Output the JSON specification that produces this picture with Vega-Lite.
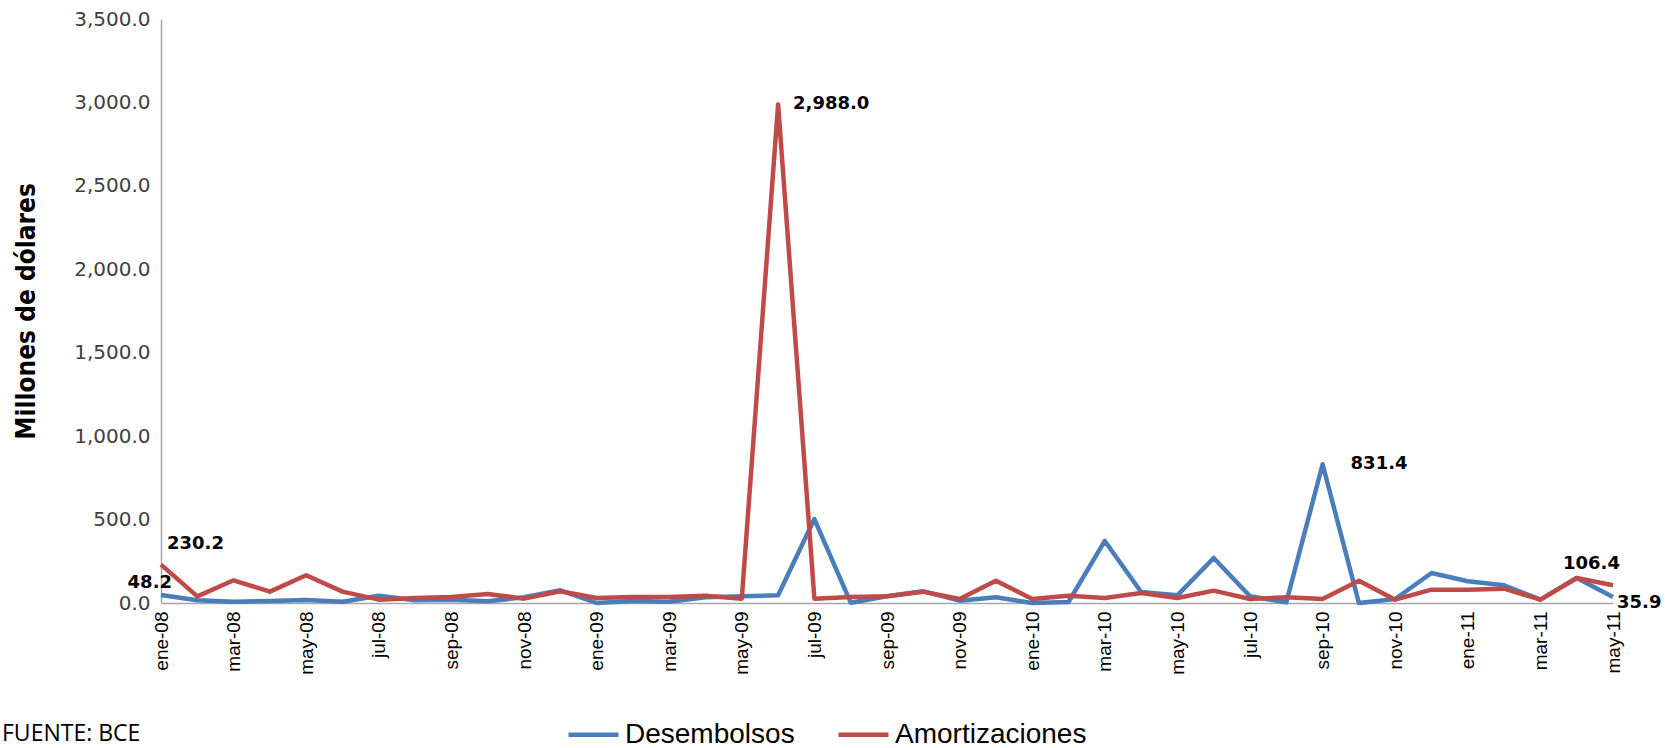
{
  "$schema": "https://vega.github.io/schema/vega-lite/v6.json",
  "autosize": "none",
  "width": 1452,
  "height": 584,
  "padding": {"left": 161, "top": 19, "right": 52, "bottom": 145},
  "background": "white",
  "config": {"view": {"stroke": null}},
  "title": {
    "text": "FUENTE: BCE",
    "orient": "bottom",
    "anchor": "start",
    "frame": "group",
    "dx": -159,
    "offset": -26,
    "font": "Open Sans",
    "fontSize": 23,
    "fontWeight": "normal",
    "color": "#000000"
  },
  "data": {
    "values": [
      {"mes": "ene-08", "Desembolsos": 48.2, "Amortizaciones": 230.2},
      {"mes": "feb-08", "Desembolsos": 16, "Amortizaciones": 40},
      {"mes": "mar-08", "Desembolsos": 8, "Amortizaciones": 136},
      {"mes": "abr-08", "Desembolsos": 12, "Amortizaciones": 68},
      {"mes": "may-08", "Desembolsos": 18, "Amortizaciones": 166},
      {"mes": "jun-08", "Desembolsos": 8, "Amortizaciones": 68},
      {"mes": "jul-08", "Desembolsos": 44, "Amortizaciones": 20},
      {"mes": "ago-08", "Desembolsos": 16, "Amortizaciones": 30},
      {"mes": "sep-08", "Desembolsos": 20, "Amortizaciones": 36},
      {"mes": "oct-08", "Desembolsos": 10, "Amortizaciones": 54},
      {"mes": "nov-08", "Desembolsos": 34, "Amortizaciones": 26},
      {"mes": "dic-08", "Desembolsos": 76, "Amortizaciones": 70},
      {"mes": "ene-09", "Desembolsos": 0, "Amortizaciones": 30},
      {"mes": "feb-09", "Desembolsos": 12, "Amortizaciones": 36},
      {"mes": "mar-09", "Desembolsos": 8, "Amortizaciones": 36},
      {"mes": "abr-09", "Desembolsos": 35, "Amortizaciones": 44},
      {"mes": "may-09", "Desembolsos": 40, "Amortizaciones": 26},
      {"mes": "jun-09", "Desembolsos": 46, "Amortizaciones": 2988},
      {"mes": "jul-09", "Desembolsos": 503, "Amortizaciones": 26},
      {"mes": "ago-09", "Desembolsos": 2, "Amortizaciones": 36},
      {"mes": "sep-09", "Desembolsos": 40, "Amortizaciones": 40},
      {"mes": "oct-09", "Desembolsos": 70, "Amortizaciones": 68},
      {"mes": "nov-09", "Desembolsos": 14, "Amortizaciones": 24},
      {"mes": "dic-09", "Desembolsos": 34, "Amortizaciones": 134},
      {"mes": "ene-10", "Desembolsos": 0, "Amortizaciones": 24},
      {"mes": "feb-10", "Desembolsos": 6, "Amortizaciones": 44},
      {"mes": "mar-10", "Desembolsos": 372, "Amortizaciones": 30},
      {"mes": "abr-10", "Desembolsos": 66, "Amortizaciones": 60},
      {"mes": "may-10", "Desembolsos": 46, "Amortizaciones": 30},
      {"mes": "jun-10", "Desembolsos": 270, "Amortizaciones": 74},
      {"mes": "jul-10", "Desembolsos": 40, "Amortizaciones": 24},
      {"mes": "ago-10", "Desembolsos": 4, "Amortizaciones": 34},
      {"mes": "sep-10", "Desembolsos": 831.4, "Amortizaciones": 24},
      {"mes": "oct-10", "Desembolsos": 0, "Amortizaciones": 134},
      {"mes": "nov-10", "Desembolsos": 24, "Amortizaciones": 20},
      {"mes": "dic-10", "Desembolsos": 180, "Amortizaciones": 80},
      {"mes": "ene-11", "Desembolsos": 130, "Amortizaciones": 80},
      {"mes": "feb-11", "Desembolsos": 106, "Amortizaciones": 86},
      {"mes": "mar-11", "Desembolsos": 20, "Amortizaciones": 20},
      {"mes": "abr-11", "Desembolsos": 150, "Amortizaciones": 150},
      {"mes": "may-11", "Desembolsos": 35.9, "Amortizaciones": 106.4}
    ]
  },
  "transform": [
    {"fold": ["Desembolsos", "Amortizaciones"], "as": ["serie", "valor"]}
  ],
  "encoding": {
    "x": {
      "field": "mes",
      "type": "ordinal",
      "sort": null,
      "scale": {"type": "point", "padding": 0},
      "axis": {
        "title": null,
        "values": ["ene-08","mar-08","may-08","jul-08","sep-08","nov-08","ene-09","mar-09","may-09","jul-09","sep-09","nov-09","ene-10","mar-10","may-10","jul-10","sep-10","nov-10","ene-11","mar-11","may-11"],
        "labelAngle": 270,
        "labelAlign": "right",
        "labelBaseline": "middle",
        "labelFont": "Liberation Sans",
        "labelFontSize": 19,
        "labelColor": "#000000",
        "labelPadding": 8,
        "ticks": false,
        "domainColor": "#A6A6A6",
        "domainWidth": 1.5,
        "grid": false
      }
    },
    "y": {
      "field": "valor",
      "type": "quantitative",
      "scale": {"domain": [0, 3500], "nice": false},
      "axis": {
        "title": "Millones de dólares",
        "titleFont": "DejaVu Sans Condensed, Liberation Sans, sans-serif",
        "titleFontSize": 26,
        "titleFontWeight": "bold",
        "titleColor": "#000000",
        "titlePadding": 34,
        "values": [0, 500, 1000, 1500, 2000, 2500, 3000, 3500],
        "format": ",.1f",
        "labelFont": "DejaVu Sans",
        "labelFontSize": 20,
        "labelColor": "#404040",
        "labelPadding": 11,
        "ticks": false,
        "domainColor": "#A6A6A6",
        "domainWidth": 1.5,
        "grid": false
      }
    }
  },
  "layer": [
    {
      "mark": {"type": "line", "strokeWidth": 4.5, "strokeJoin": "round"},
      "encoding": {
        "color": {
          "field": "serie",
          "type": "nominal",
          "scale": {"domain": ["Desembolsos", "Amortizaciones"], "range": ["#4A7EBB", "#BE4B48"]},
          "legend": {
            "title": null,
            "orient": "none",
            "legendX": 405,
            "legendY": 688,
            "direction": "horizontal",
            "symbolType": "stroke",
            "symbolSize": 2500,
            "symbolStrokeWidth": 4.5,
            "labelFont": "Liberation Sans",
            "labelFontSize": 28,
            "labelLimit": 500,
            "labelColor": "#000000",
            "labelOffset": 4,
            "columnPadding": 34
          }
        }
      }
    },
    {
      "transform": [{"filter": "datum.mes == 'ene-08' && datum.serie == 'Amortizaciones'"}],
      "mark": {"type": "text", "align": "left", "baseline": "middle", "dx": 6, "dy": -21, "font": "DejaVu Sans", "fontSize": 18, "fontWeight": "bold", "color": "#000000"},
      "encoding": {"text": {"field": "valor", "type": "quantitative", "format": ",.1f"}}
    },
    {
      "transform": [{"filter": "datum.mes == 'ene-08' && datum.serie == 'Desembolsos'"}],
      "mark": {"type": "text", "align": "right", "baseline": "middle", "dx": 11, "dy": -12, "font": "DejaVu Sans", "fontSize": 18, "fontWeight": "bold", "color": "#000000"},
      "encoding": {"text": {"field": "valor", "type": "quantitative", "format": ",.1f"}}
    },
    {
      "transform": [{"filter": "datum.mes == 'jun-09' && datum.serie == 'Amortizaciones'"}],
      "mark": {"type": "text", "align": "left", "baseline": "middle", "dx": 15, "dy": 0, "font": "DejaVu Sans", "fontSize": 18, "fontWeight": "bold", "color": "#000000"},
      "encoding": {"text": {"field": "valor", "type": "quantitative", "format": ",.1f"}}
    },
    {
      "transform": [{"filter": "datum.mes == 'sep-10' && datum.serie == 'Desembolsos'"}],
      "mark": {"type": "text", "align": "left", "baseline": "middle", "dx": 28, "dy": 0, "font": "DejaVu Sans", "fontSize": 18, "fontWeight": "bold", "color": "#000000"},
      "encoding": {"text": {"field": "valor", "type": "quantitative", "format": ",.1f"}}
    },
    {
      "transform": [{"filter": "datum.mes == 'may-11' && datum.serie == 'Amortizaciones'"}],
      "mark": {"type": "text", "align": "left", "baseline": "middle", "dx": -50, "dy": -21, "font": "DejaVu Sans", "fontSize": 18, "fontWeight": "bold", "color": "#000000"},
      "encoding": {"text": {"field": "valor", "type": "quantitative", "format": ",.1f"}}
    },
    {
      "transform": [{"filter": "datum.mes == 'may-11' && datum.serie == 'Desembolsos'"}],
      "mark": {"type": "text", "align": "left", "baseline": "middle", "dx": 4, "dy": 6, "font": "DejaVu Sans", "fontSize": 18, "fontWeight": "bold", "color": "#000000"},
      "encoding": {"text": {"field": "valor", "type": "quantitative", "format": ",.1f"}}
    }
  ]
}
